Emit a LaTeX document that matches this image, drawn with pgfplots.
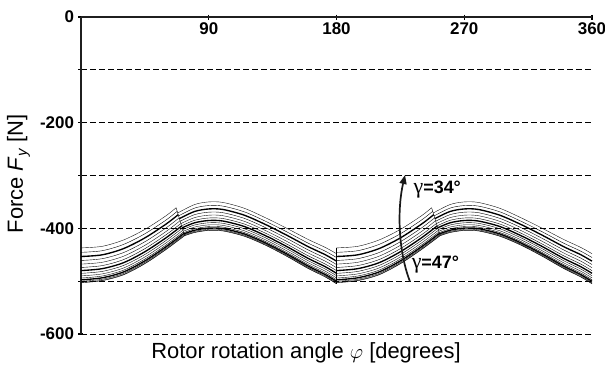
\documentclass[border=0pt]{standalone}
\usepackage{fontspec}
\setmainfont{Liberation Sans}
\newfontfamily\serifgreek{Liberation Serif}
\usepackage{pgfplots}
\pgfplotsset{compat=1.18}
\usetikzlibrary{arrows.meta}
\begin{document}
\begin{tikzpicture}[x=1bp,y=1bp]
\useasboundingbox (-81,-42) rectangle (524,334);
\begin{axis}[
  at={(0,0)}, anchor=south west,
  scale only axis, width=511bp, height=317bp,
  xmin=0, xmax=360, ymin=-600, ymax=0,
  clip=false,
  axis x line*=top, axis y line*=left,
  axis line style={line width=2.6bp, black!88},
  xtick={90,180,270,360},
  ytick={-600,-400,-200,0},
  minor ytick={-500,-300,-100},
  ymajorgrids, yminorgrids,
  major grid style={black, line width=0.8bp, dash pattern=on 6bp off 3bp},
  minor grid style={black, line width=0.8bp, dash pattern=on 6bp off 3bp},
  tick align=center,
  major tick length=5bp, minor tick length=5bp,
  tick style={line width=1.2bp, black},
  /pgf/number format/assume math mode=true,
  xticklabel style={font=\fontsize{17}{20}\selectfont\bfseries, anchor=north, yshift=-5bp},
  yticklabel style={font=\fontsize{17}{20}\selectfont\bfseries, xshift=-1bp},
  cycle list={{black!92, solid, line width=1.35bp, mark=none}},
  every axis plot post/.append style={smooth, mark=none},
  unbounded coords=jump,
]
% gamma = 34 (top)
\addplot coordinates {(0,-437)(15,-434)(30,-422)(45,-402)(60,-376)(67.0,-361)(67.5,nan)(68.1,-371)(80,-355)(90,-350)(100,-351)(115,-362)(130,-380)(145,-400)(160,-421)(172,-436)(180,-448)(180,nan)(180,-437)(195,-434)(210,-422)(225,-402)(240,-376)(247.0,-361)(247.5,nan)(248.1,-371)(260,-355)(270,-350)(280,-351)(295,-362)(310,-380)(325,-400)(340,-421)(352,-436)(360,-448)};
\addplot coordinates {(0,-445.4)(15,-442.3)(30,-430.4)(45,-410.3)(60,-384.1)(67.8,-367.7)(68.3,nan)(68.8,-376.4)(80,-361.7)(90,-356.9)(100,-357.9)(115,-368.7)(130,-386.6)(145,-406.7)(160,-428.0)(172,-443.1)(180,-455.2)(180,nan)(180,-445.4)(195,-442.3)(210,-430.4)(225,-410.3)(240,-384.1)(247.8,-367.7)(248.3,nan)(248.8,-376.4)(260,-361.7)(270,-356.9)(280,-357.9)(295,-368.7)(310,-386.6)(325,-406.7)(340,-428.0)(352,-443.1)(360,-455.2)};
\addplot coordinates {(0,-453.3)(15,-450.1)(30,-438.3)(45,-418.1)(60,-391.8)(68.5,-374.1)(68.9,nan)(69.3,-381.6)(80,-368.1)(90,-363.3)(100,-364.3)(115,-375.1)(130,-392.8)(145,-413.1)(160,-434.6)(172,-449.8)(180,-462.1)(180,nan)(180,-453.3)(195,-450.1)(210,-438.3)(225,-418.1)(240,-391.8)(248.5,-374.1)(248.9,nan)(249.3,-381.6)(260,-368.1)(270,-363.3)(280,-364.3)(295,-375.1)(310,-392.8)(325,-413.1)(340,-434.6)(352,-449.8)(360,-462.1)};
\addplot coordinates {(0,-460.8)(15,-457.4)(30,-445.8)(45,-425.4)(60,-399.0)(69.2,-380.1)(69.5,nan)(69.9,-386.5)(80,-374.1)(90,-369.4)(100,-370.4)(115,-381.1)(130,-398.7)(145,-419.1)(160,-440.8)(172,-456.2)(180,-468.5)(180,nan)(180,-460.8)(195,-457.4)(210,-445.8)(225,-425.4)(240,-399.0)(249.2,-380.1)(249.5,nan)(249.9,-386.5)(260,-374.1)(270,-369.4)(280,-370.4)(295,-381.1)(310,-398.7)(325,-419.1)(340,-440.8)(352,-456.2)(360,-468.5)};
\addplot coordinates {(0,-467.7)(15,-464.2)(30,-452.7)(45,-432.2)(60,-405.8)(69.8,-385.6)(70.1,nan)(70.4,-391.0)(80,-379.7)(90,-375.1)(100,-376.1)(115,-386.7)(130,-404.2)(145,-424.7)(160,-446.6)(172,-462.0)(180,-474.5)(180,nan)(180,-467.7)(195,-464.2)(210,-452.7)(225,-432.2)(240,-405.8)(249.8,-385.6)(250.1,nan)(250.4,-391.0)(260,-379.7)(270,-375.1)(280,-376.1)(295,-386.7)(310,-404.2)(325,-424.7)(340,-446.6)(352,-462.0)(360,-474.5)};
\addplot coordinates {(0,-474.1)(15,-470.5)(30,-459.1)(45,-438.5)(60,-412.0)(70.4,-390.8)(70.6,nan)(70.9,-395.2)(80,-384.8)(90,-380.4)(100,-381.4)(115,-391.8)(130,-409.2)(145,-429.8)(160,-451.9)(172,-467.5)(180,-480.0)(180,nan)(180,-474.1)(195,-470.5)(210,-459.1)(225,-438.5)(240,-412.0)(250.4,-390.8)(250.6,nan)(250.9,-395.2)(260,-384.8)(270,-380.4)(280,-381.4)(295,-391.8)(310,-409.2)(325,-429.8)(340,-451.9)(352,-467.5)(360,-480.0)};
\addplot coordinates {(0,-480.0)(15,-476.3)(30,-465.0)(45,-444.3)(60,-417.7)(70.9,-395.5)(71.1,nan)(71.3,-399.0)(80,-389.5)(90,-385.2)(100,-386.2)(115,-396.5)(130,-413.9)(145,-434.5)(160,-456.8)(172,-472.5)(180,-485.1)(180,nan)(180,-480.0)(195,-476.3)(210,-465.0)(225,-444.3)(240,-417.7)(250.9,-395.5)(251.1,nan)(251.3,-399.0)(260,-389.5)(270,-385.2)(280,-386.2)(295,-396.5)(310,-413.9)(325,-434.5)(340,-456.8)(352,-472.5)(360,-485.1)};
\addplot coordinates {(0,-485.2)(15,-481.5)(30,-470.2)(45,-449.5)(60,-422.8)(71.4,-399.7)(71.55,nan)(71.7,-402.4)(80,-393.7)(90,-389.5)(100,-390.5)(115,-400.7)(130,-418.0)(145,-438.7)(160,-461.2)(172,-476.9)(180,-489.7)(180,nan)(180,-485.2)(195,-481.5)(210,-470.2)(225,-449.5)(240,-422.8)(251.4,-399.7)(251.55,nan)(251.7,-402.4)(260,-393.7)(270,-389.5)(280,-390.5)(295,-400.7)(310,-418.0)(325,-438.7)(340,-461.2)(352,-476.9)(360,-489.7)};
\addplot coordinates {(0,-490.0)(15,-486.2)(30,-475.0)(45,-454.2)(60,-427.4)(71.8,-403.6)(71.9,nan)(72.0,-405.6)(80,-397.6)(90,-393.4)(100,-394.4)(115,-404.6)(130,-421.8)(145,-442.6)(160,-465.2)(172,-481.0)(180,-493.8)(180,nan)(180,-490.0)(195,-486.2)(210,-475.0)(225,-454.2)(240,-427.4)(251.8,-403.6)(251.9,nan)(252.0,-405.6)(260,-397.6)(270,-393.4)(280,-394.4)(295,-404.6)(310,-421.8)(325,-442.6)(340,-465.2)(352,-481.0)(360,-493.8)};
\addplot coordinates {(0,-494.1)(15,-490.2)(30,-479.1)(45,-458.2)(60,-431.4)(72.2,-406.9)(72.3,nan)(72.4,-408.2)(80,-400.9)(90,-396.7)(100,-397.7)(115,-407.9)(130,-425.0)(145,-445.9)(160,-468.6)(172,-484.4)(180,-497.3)(180,nan)(180,-494.1)(195,-490.2)(210,-479.1)(225,-458.2)(240,-431.4)(252.2,-406.9)(252.3,nan)(252.4,-408.2)(260,-400.9)(270,-396.7)(280,-397.7)(295,-407.9)(310,-425.0)(325,-445.9)(340,-468.6)(352,-484.4)(360,-497.3)};
\addplot coordinates {(0,-497.5)(15,-493.6)(30,-482.5)(45,-461.6)(60,-434.7)(72.5,-409.6)(72.55,nan)(72.6,-410.4)(80,-403.6)(90,-399.5)(100,-400.5)(115,-410.6)(130,-427.7)(145,-448.6)(160,-471.4)(172,-487.4)(180,-500.3)(180,nan)(180,-497.5)(195,-493.6)(210,-482.5)(225,-461.6)(240,-434.7)(252.5,-409.6)(252.55,nan)(252.6,-410.4)(260,-403.6)(270,-399.5)(280,-400.5)(295,-410.6)(310,-427.7)(325,-448.6)(340,-471.4)(352,-487.4)(360,-500.3)};
\addplot coordinates {(0,-500.3)(15,-496.3)(30,-485.3)(45,-464.3)(60,-437.4)(72.8,-411.8)(72.85,nan)(72.9,-412.2)(80,-405.8)(90,-401.8)(100,-402.8)(115,-412.8)(130,-429.9)(145,-450.8)(160,-473.8)(172,-489.7)(180,-502.7)(180,nan)(180,-500.3)(195,-496.3)(210,-485.3)(225,-464.3)(240,-437.4)(252.8,-411.8)(252.85,nan)(252.9,-412.2)(260,-405.8)(270,-401.8)(280,-402.8)(295,-412.8)(310,-429.9)(325,-450.8)(340,-473.8)(352,-489.7)(360,-502.7)};
\addplot coordinates {(0,-502.1)(15,-498.2)(30,-487.1)(45,-466.2)(60,-439.2)(72.9,-413.3)(72.95,nan)(73.0,-413.4)(80,-407.3)(90,-403.3)(100,-404.3)(115,-414.3)(130,-431.3)(145,-452.3)(160,-475.3)(172,-491.3)(180,-504.3)(180,nan)(180,-502.1)(195,-498.2)(210,-487.1)(225,-466.2)(240,-439.2)(252.9,-413.3)(252.95,nan)(253.0,-413.4)(260,-407.3)(270,-403.3)(280,-404.3)(295,-414.3)(310,-431.3)(325,-452.3)(340,-475.3)(352,-491.3)(360,-504.3)};
% gamma = 47 (bottom)
\addplot coordinates {(0,-503)(15,-499)(30,-488)(45,-467)(60,-440)(73.0,-414)(73.05,nan)(73.1,-414)(80,-408)(90,-404)(100,-405)(115,-415)(130,-432)(145,-453)(160,-476)(172,-492)(180,-505)(180,nan)(180,-503)(195,-499)(210,-488)(225,-467)(240,-440)(253.0,-414)(253.05,nan)(253.1,-414)(260,-408)(270,-404)(280,-405)(295,-415)(310,-432)(325,-453)(340,-476)(352,-492)(360,-505)};
% jump connectors
\addplot[sharp plot] coordinates {(67,-361)(73,-414)};
\addplot[sharp plot] coordinates {(247,-361)(253,-414)};
\addplot[sharp plot] coordinates {(180,-437)(180,-505)};
% annotation
\draw[line width=1.7bp, black!90, -{Triangle[length=9bp,width=7bp]}]
  (axis cs:231.8,-501) .. controls (axis cs:223,-440) and (axis cs:223,-360) .. (axis cs:228.3,-299);
\node[font=\fontsize{18}{20}\selectfont\bfseries] at (axis cs:251,-326) {{\serifgreek\mdseries\fontsize{22}{24}\selectfont γ}=34°};
\node[font=\fontsize{18}{20}\selectfont\bfseries] at (axis cs:249.7,-469) {{\serifgreek\mdseries\fontsize{22}{24}\selectfont γ}=47°};
% axis labels
\node[font=\fontsize{22}{25}\selectfont] at (axis cs:158.5,-636) {Rotor rotation angle $\varphi$ [degrees]};
\node[font=\fontsize{22}{25}\selectfont, rotate=90] at (axis cs:-44,-297) {Force \textit{F}\raisebox{-0.35ex}{\fontsize{15}{17}\selectfont\textit{y}} [N]};
\end{axis}
\end{tikzpicture}
\end{document}
